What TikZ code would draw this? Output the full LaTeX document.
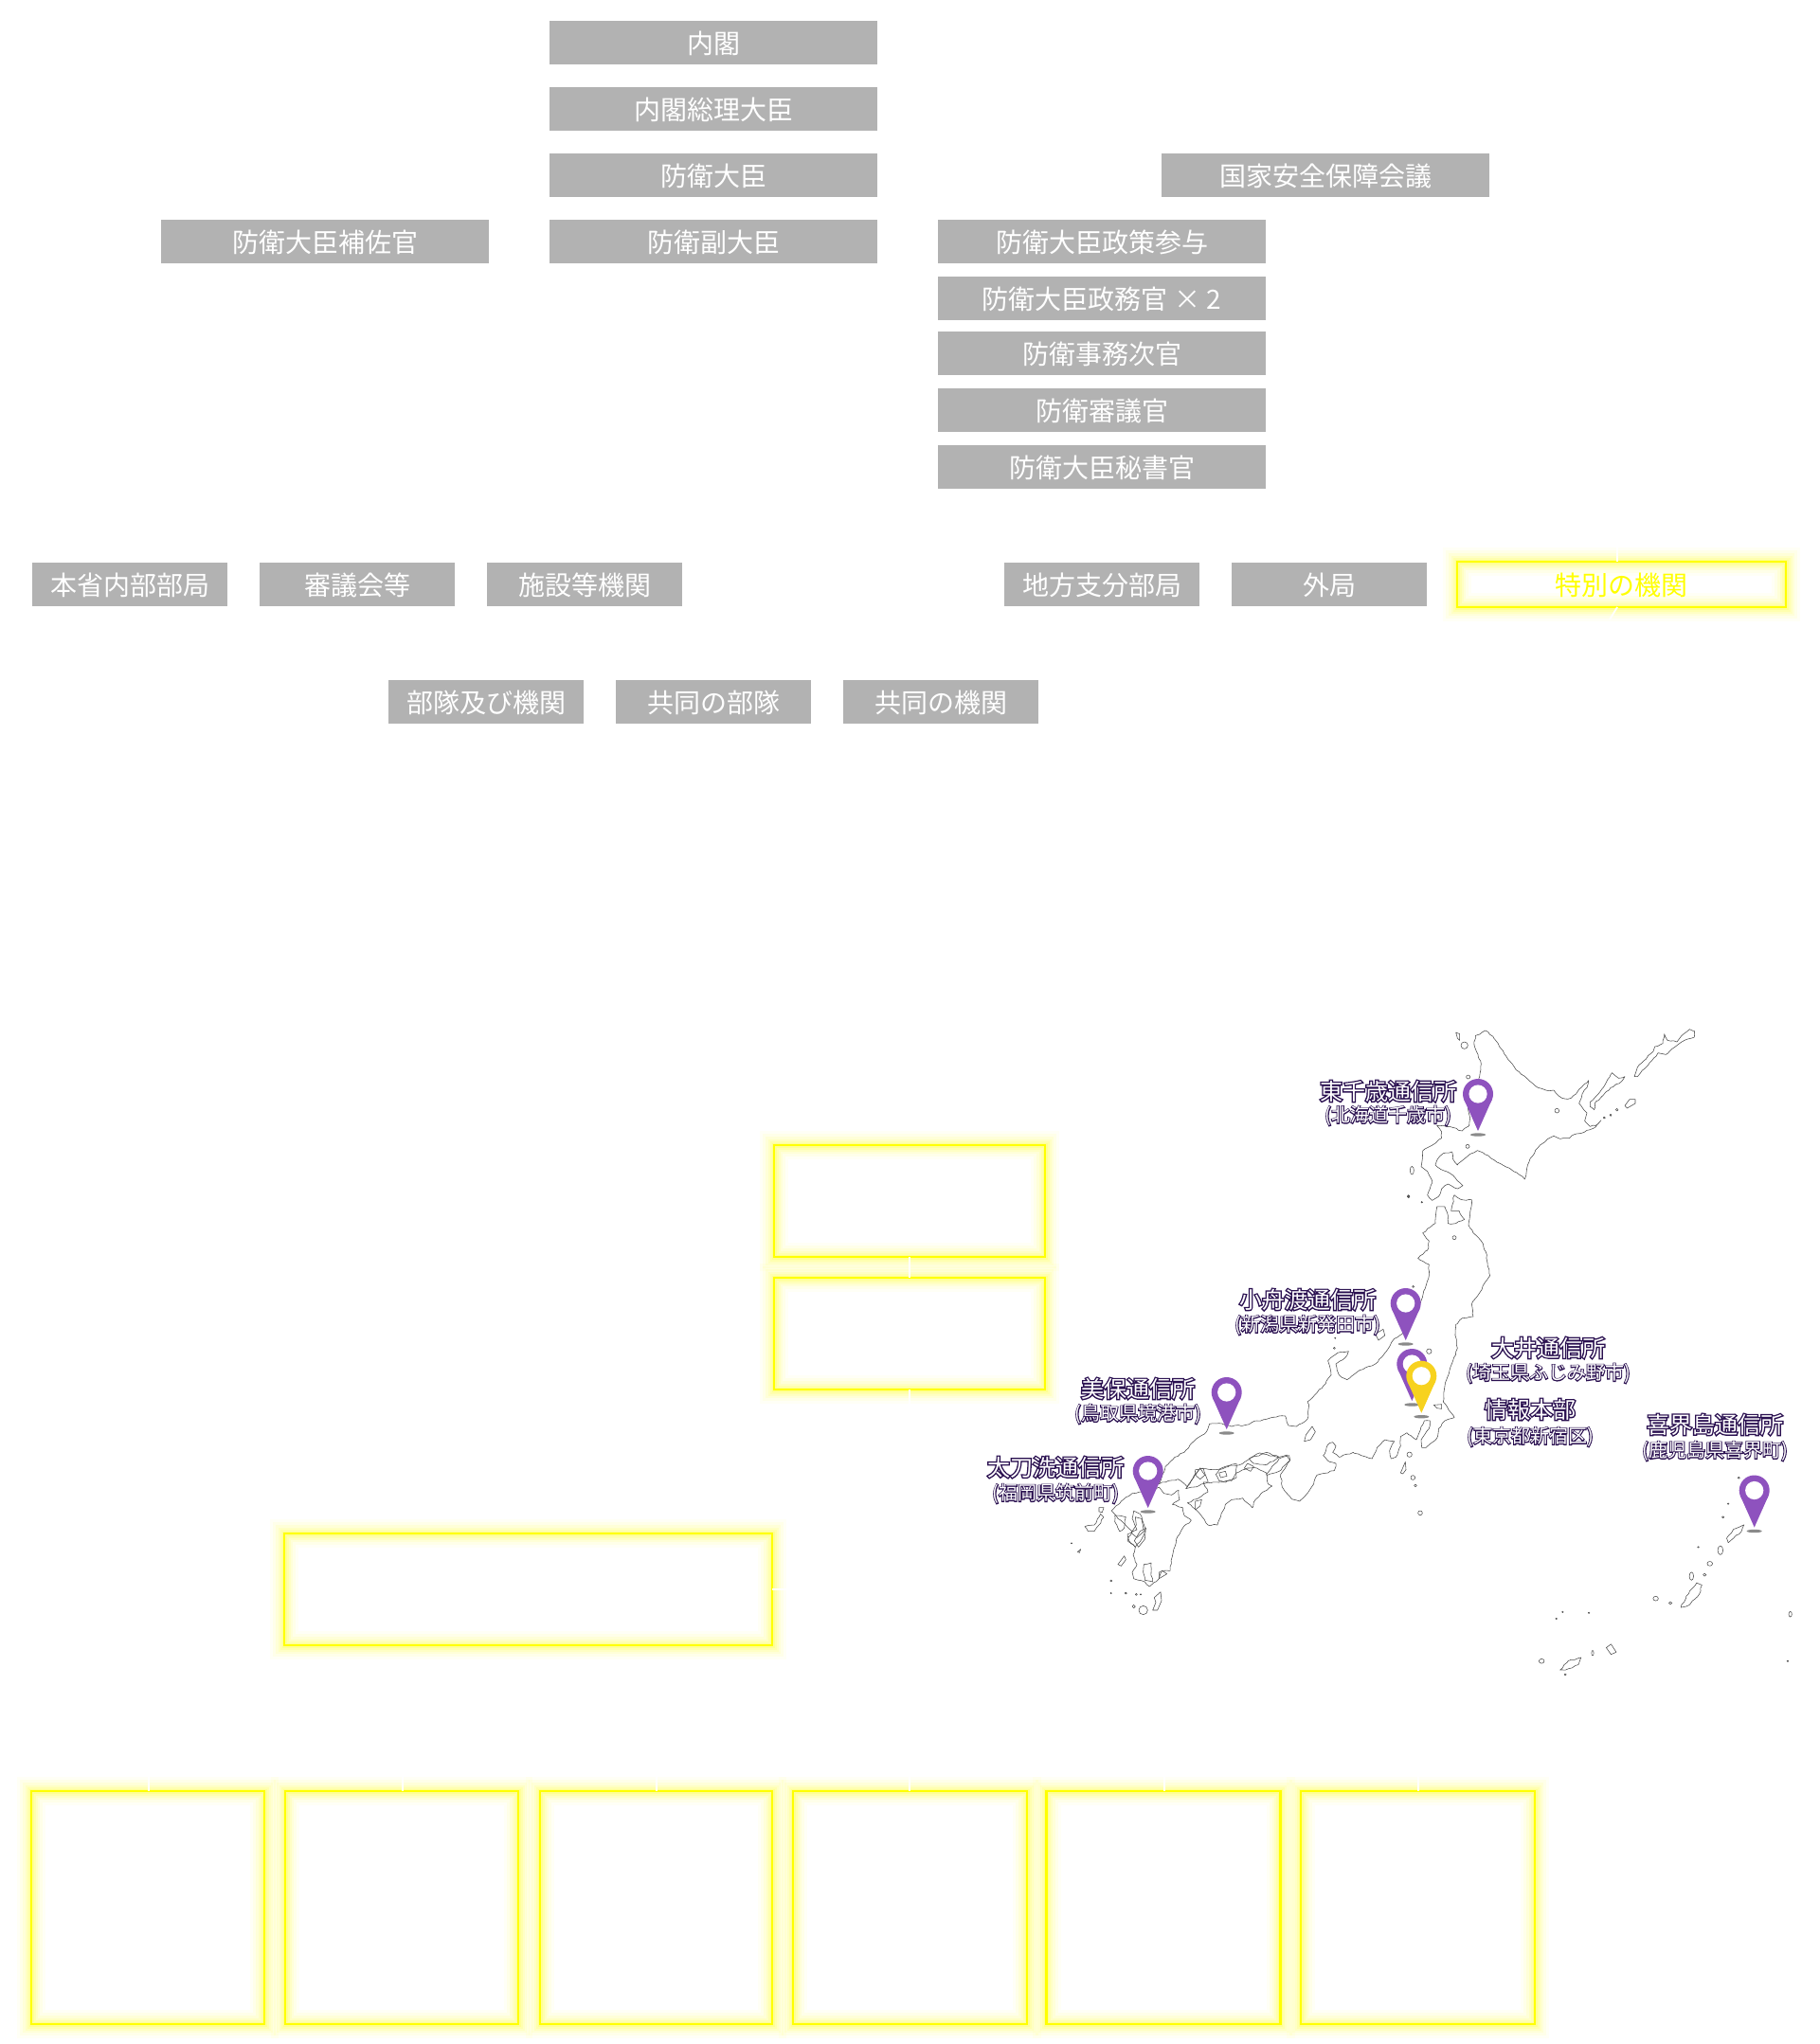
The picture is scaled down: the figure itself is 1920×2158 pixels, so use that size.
\documentclass[tikz,border=0pt]{standalone}
\usepackage{fontspec}
\usetikzlibrary{decorations.pathmorphing}
\setmainfont{Noto Sans CJK JP}
\newfontfamily\cjkout[FakeBold=11]{Noto Sans CJK JP}
\newfontfamily\cjkoutsub[FakeBold=9]{Noto Sans CJK JP}
\definecolor{boxgrey}{HTML}{B2B2B2}
\definecolor{glowy}{HTML}{FFFF00}
\definecolor{pinp}{HTML}{8E52BE}
\definecolor{piny}{HTML}{F7D21F}
\definecolor{pinsh}{HTML}{8A8A8A}
\definecolor{outl}{HTML}{2A1050}
\definecolor{coast}{HTML}{4A4A4A}
\newcommand\outtext[2]{{\fontsize{24}{24}\selectfont\rlap{\textcolor{outl}{\cjkout #2}}\textcolor{white}{#2}}}
\newcommand\outsub[1]{{\fontsize{20}{20}\selectfont\rlap{\textcolor{outl}{\cjkoutsub #1}}\textcolor{white}{#1}}}
\newcommand\pinmark[3]{%
  \fill[pinsh] (#1,#2+4) ellipse (8 and 1.7);
  \fill[#3] (#1,#2-39) circle (16);
  \fill[#3] (#1,#2) -- (#1-14.7,#2-33) -- (#1+14.7,#2-33) -- cycle;
  \fill[white] (#1,#2-39) circle (9.6);
}
\pgfmathsetseed{2158}
\tikzset{
  greybox/.style={fill=boxgrey,text=white,inner sep=0pt,outer sep=0pt,minimum height=46pt,text height=25pt,text depth=2.4pt,font=\fontsize{28}{28}\selectfont},
  widebox/.style={greybox,minimum width=346pt},
  narrowbox/.style={greybox,minimum width=206pt},
  glowbox/.style={draw=glowy,line width=2.2pt,inner sep=0pt,outer sep=0pt,
    preaction={draw=glowy,line width=30pt,opacity=.035},
    preaction={draw=glowy,line width=24pt,opacity=.05},
    preaction={draw=glowy,line width=18pt,opacity=.07},
    preaction={draw=glowy,line width=13pt,opacity=.09},
    preaction={draw=glowy,line width=9pt,opacity=.11},
    preaction={draw=glowy,line width=5pt,opacity=.14}},
  wire/.style={draw=white,line width=1.8pt},
  coastline/.style={draw=coast,line width=.55pt,line join=round},
  rough/.style={coastline,decorate,decoration={random steps,segment length=3.5pt,amplitude=.7pt}},
  pinlabel/.style={inner sep=0pt,outer sep=0pt},
}
\begin{document}
\begin{tikzpicture}[x=1pt,y=-1pt]
\useasboundingbox (0,0) rectangle (1920,2158);
\fill[white] (0,0) rectangle (1920,2158);
% grey boxes
\node[widebox] (naikaku) at (753,45) {内閣};
\node[widebox] (souri) at (753,115) {内閣総理大臣};
\node[widebox] (daijin) at (753,185) {防衛大臣};
\node[widebox] (fuku) at (753,255) {防衛副大臣};
\node[widebox] (hosa) at (343,255) {防衛大臣補佐官};
\node[widebox] (nsc) at (1399,185) {国家安全保障会議};
\node[widebox] (seisaku) at (1163,255) {防衛大臣政策参与};
\node[widebox] (seimu) at (1163,315) {防衛大臣政務官 × 2};
\node[widebox] (jimu) at (1163,373) {防衛事務次官};
\node[widebox] (shingi) at (1163,433) {防衛審議官};
\node[widebox] (hisho) at (1163,493) {防衛大臣秘書官};
\node[narrowbox] (honsho) at (137,617) {本省内部部局};
\node[narrowbox] (shingikai) at (377,617) {審議会等};
\node[narrowbox] (shisetsu) at (617,617) {施設等機関};
\node[narrowbox] (chiho) at (1163,617) {地方支分部局};
\node[narrowbox] (gaikyoku) at (1403,617) {外局};
\node[narrowbox] (butai) at (513,741) {部隊及び機関};
\node[narrowbox] (kyodob) at (753,741) {共同の部隊};
\node[narrowbox] (kyodok) at (993,741) {共同の機関};
% glowing boxes
\node[glowbox,minimum width=347pt,minimum height=48pt,text=glowy,text height=25pt,text depth=2.4pt,font=\fontsize{28}{28}\selectfont] (tokubetsu) at (1711.5,617) {特別の機関};
\node[glowbox,minimum width=286pt,minimum height=118pt] (ga) at (960,1268) {};
\node[glowbox,minimum width=286pt,minimum height=118pt] (gb) at (960,1408) {};
\node[glowbox,minimum width=515pt,minimum height=118pt] (gc) at (557.5,1678) {};
\node[glowbox,minimum width=246pt,minimum height=246pt] (g1) at (156,2014) {};
\node[glowbox,minimum width=246pt,minimum height=246pt] (g2) at (424,2014) {};
\node[glowbox,minimum width=245pt,minimum height=246pt] (g3) at (692.5,2014) {};
\node[glowbox,minimum width=247pt,minimum height=246pt] (g4) at (960.5,2014) {};
\node[glowbox,minimum width=247pt,minimum height=246pt] (g5) at (1228,2014) {};
\node[glowbox,minimum width=247pt,minimum height=246pt] (g6) at (1496.5,2014) {};
% white connectors, seen only across the glow
\coordinate (tu) at (1707,576);
\coordinate (td) at (1699,654);
\coordinate (gbd) at (960,1490);
\coordinate (gcr) at (836,1678);
\coordinate (t1) at (157,1874);
\coordinate (t2) at (425,1874);
\coordinate (t3) at (693,1874);
\coordinate (t4) at (960,1874);
\coordinate (t5) at (1229,1874);
\coordinate (t6) at (1497,1874);
\draw[wire] (ga.south) -- (gb.north);
\draw[wire] (gb.south) -- (gbd);
\draw[wire] (gc.east) -- (gcr);
\draw[wire] (tokubetsu.north -| tu) -- (tu);
\draw[wire] (tokubetsu.south -| tu) -- (td);
\draw[wire] (g1.north -| t1) -- (t1);
\draw[wire] (g2.north -| t2) -- (t2);
\draw[wire] (g3.north -| t3) -- (t3);
\draw[wire] (g4.north -| t4) -- (t4);
\draw[wire] (g5.north -| t5) -- (t5);
\draw[wire] (g6.north -| t6) -- (t6);
% map: Hokkaido and Kuriles
\begin{scope}[shift={(1480,1070)},x=.33333pt,y=-.33333pt]
\draw[rough] (232,70)--(245,66)--(262,54)--(272,58)--(290,78)--(312,110)--(335,145)--(360,178)--(385,197)--(405,215)--(430,235)--(455,243)--(480,243)--(497,262)--(515,270)--(535,268)--(555,248)--(575,225)--(590,212)--(585,235)--(570,255)--(560,285)--(575,305)--(585,315)--(578,340)--(595,358)--(612,355)--(630,338)--(612,360)--(585,370)--(565,380)--(545,383)--(530,395)--(500,397)--(480,388)--(460,398)--(430,425)--(405,460)--(395,490)--(388,525)--(370,510)--(340,490)--(310,475)--(280,458)--(258,442)--(238,434)--(215,445)--(195,462)--(175,480)--(160,460)--(158,438)--(130,443)--(110,465)--(105,480)--(130,497)--(160,512)--(175,530)--(192,545)--(175,555)--(145,540)--(125,555)--(115,580)--(95,592)--(80,575)--(95,530)--(80,500)--(60,485)--(65,435)--(90,420)--(125,395)--(125,375)--(110,355)--(150,358)--(190,372)--(212,355)--(215,330)--(208,300)--(245,200)--(250,160)--(240,130)--(228,100)--cycle;
\draw[coastline] (170,60)--(182,65)--(182,85)--(175,78)--cycle;
\draw[coastline] (197,101) circle (11);
\draw[coastline] (31,497) ellipse (6 and 13);
\draw[coastline] (20,578) circle (3);
\draw[coastline] (62,598) circle (2);
\draw[coastline] (207,421) circle (6);
\draw[coastline] (209,201) circle (6);
\draw[coastline] (490,308) circle (7);
\draw[rough] (735,200)--(745,170)--(765,150)--(795,120)--(800,105)--(825,95)--(830,65)--(840,85)--(870,90)--(885,70)--(910,50)--(925,55)--(925,75)--(885,90)--(865,105)--(835,130)--(810,125)--(790,150)--(760,180)--(745,200)--cycle;
\draw[rough] (595,280)--(625,250)--(650,210)--(665,188)--(685,205)--(705,200)--(695,215)--(660,235)--(630,265)--(610,285)--(608,305)--(595,295)--cycle;
\draw[coastline] (705,292)--(720,272)--(738,272)--(738,285)--(712,300)--cycle;
\draw[coastline] (680,305) circle (4);
\draw[coastline] (660,322) circle (3);
\draw[coastline] (640,330) circle (3);
\end{scope}
% map: Honshu, Shikoku, Kyushu
\begin{scope}[shift={(1120,1470)},x=.33333pt,y=-.33333pt]
\draw[rough] (1190,-588)--(1215,-588)--(1225,-560)--(1225,-535)--(1250,-535)--(1277,-548)--(1260,-575)--(1235,-575)--(1245,-625)--(1270,-610)--(1300,-610)--(1295,-570)--(1290,-530)--(1305,-505)--(1330,-480)--(1345,-445)--(1350,-410)--(1358,-370)--(1340,-345)--(1325,-315)--(1300,-280)--(1305,-240)--(1270,-235)--(1250,-215)--(1248,-180)--(1255,-140)--(1230,-70)--(1215,-20)--(1210,30)--(1235,65)--(1245,80)--(1215,90)--(1195,115)--(1190,145)--(1155,175)--(1142,175)--(1140,150)--(1165,115)--(1168,90)--(1150,90)--(1135,125)--(1125,150)--(1095,128)--(1075,140)--(1075,170)--(1060,205)--(1045,210)--(1040,185)--(1055,155)--(1025,150)--(1000,175)--(985,210)--(950,200)--(925,190)--(880,205)--(860,190)--(870,170)--(860,158)--(845,165)--(830,200)--(850,220)--(870,225)--(865,248)--(810,262)--(800,290)--(775,325)--(755,345)--(730,338)--(700,300)--(695,260)--(725,215)--(715,198)--(690,205)--(650,190)--(620,195)--(590,215)--(565,230)--(520,235)--(490,245)--(440,240)--(420,265)--(400,300)--(385,285)--(370,275)--(340,280)--(310,290)--(330,235)--(360,205)--(390,190)--(420,155)--(460,125)--(470,100)--(500,98)--(540,108)--(585,103)--(620,90)--(650,85)--(690,75)--(710,75)--(720,105)--(745,108)--(780,85)--(785,40)--(780,30)--(830,-20)--(855,-55)--(845,-100)--(875,-125)--(910,-130)--(900,-110)--(870,-90)--(880,-55)--(905,-40)--(945,-70)--(995,-90)--(1030,-130)--(1055,-170)--(1080,-185)--(1140,-290)--(1165,-370)--(1165,-405)--(1130,-425)--(1160,-450)--(1165,-480)--(1145,-505)--(1185,-535)--(1188,-575)--cycle;
\draw[rough] (400,350)--(435,335)--(465,315)--(450,285)--(500,285)--(540,280)--(555,255)--(590,240)--(620,240)--(650,255)--(655,290)--(668,297)--(640,315)--(615,340)--(605,365)--(575,335)--(540,340)--(520,355)--(505,395)--(495,420)--(465,420)--(440,385)--(425,370)--cycle;
\draw[rough] (650,260)--(690,210)--(722,200)--(725,215)--(690,250)--(655,262)--cycle;
\draw[rough] (500,245)--(555,225)--(555,270)--(520,285)--(500,280)--(490,260)--cycle;
\draw[rough] (595,210)--(640,195)--(690,205)--(650,230)--(610,225)--cycle;
\draw[rough] (425,245)--(450,240)--(465,285)--(420,300)--(395,305)--(420,270)--cycle;
\draw[rough] (310,300)--(325,320)--(350,325)--(372,310)--(375,340)--(352,355)--(385,365)--(390,390)--(412,405)--(385,430)--(365,465)--(352,520)--(345,565)--(320,565)--(310,590)--(280,615)--(265,600)--(230,590)--(225,570)--(240,545)--(228,515)--(235,490)--(210,470)--(225,440)--(180,400)--(160,375)--(190,345)--(225,320)--(250,315)--(275,320)--cycle;
\draw[rough] (230,375)--(250,385)--(268,430)--(255,465)--(235,490)--(215,470)--(210,450)--(240,435)--(225,400)--cycle;
\draw[coastline] (235,395)--(255,400)--(262,440)--(240,460)--(222,445)--(238,420)--cycle;
\draw[coastline] (250,440)--(268,430)--(265,465)--(245,490)--(232,470)--cycle;
\draw[rough] (170,390)--(205,395)--(200,430)--(185,440)--(170,410)--cycle;
\draw[rough] (75,425)--(105,420)--(125,385)--(135,395)--(120,420)--(105,440)--(85,440)--cycle;
\draw[coastline] (120,365)--(135,365)--(130,380)--(120,378)--cycle;
\draw[coastline] (180,545)--(200,518)--(205,530)--(190,550)--cycle;
\draw[rough] (262,545)--(285,540)--(285,570)--(290,600)--(265,595)--(260,570)--cycle;
\draw[coastline] (310,570)--(320,565)--(335,575)--(310,590)--cycle;
\draw[coastline] (295,650)--(315,632)--(318,660)--(305,690)--(290,690)--(300,665)--cycle;
\draw[coastline] (260,690) circle (14);
\draw[coastline] (230,678) circle (5);
\draw[coastline] (158,597) circle (3);
\draw[coastline] (158,636) circle (2);
\draw[coastline] (205,636) circle (3);
\draw[coastline] (238,640) circle (3);
\draw[coastline] (252,640) circle (2);
\draw[coastline] (33,478) circle (2);
\draw[coastline] (52,505)--(62,497)--(58,508)--cycle;
\draw[coastline] (440,240)--(455,262)--(440,275)--(425,262)--cycle;
\draw[coastline] (590,225)--(610,235)--(600,250)--(580,240)--cycle;
\draw[coastline] (500,255)--(520,250)--(525,265)--(505,270)--cycle;
\draw[coastline] (425,345)--(445,340)--(440,360)--(425,372)--cycle;
\draw[coastline] (770,155)--(775,135)--(795,108)--(805,125)--(790,150)--cycle;
\draw[coastline] (995,-185)--(1020,-200)--(1025,-180)--(1005,-165)--cycle;
\draw[coastline] (1165,-130) circle (8);
\draw[coastline] (1115,-335) circle (3);
\draw[coastline] (1180,40)--(1205,38)--(1205,52)--(1190,50)--cycle;
\draw[coastline] (1245,-490) circle (6);
\draw[coastline] (1100,-620) circle (4);
\draw[coastline] (1142,-602) circle (2);
\draw[coastline] (865,-140) circle (3);
\draw[coastline] (868,-172) circle (2);
\draw[coastline] (1103,197) circle (8);
\draw[coastline] (1075,255)--(1090,220)--(1092,245)--(1082,258)--cycle;
\draw[coastline] (1114,270) circle (7);
\draw[coastline] (1122,295) circle (4);
\draw[coastline] (1137,382) circle (7);
\end{scope}
% map: Nansei islands
\begin{scope}[shift={(1050,1060)},x=.55494pt,y=-.47192pt]
\draw[rough] (1392,1195)--(1405,1175)--(1425,1165)--(1420,1180)--(1405,1195)--(1395,1205)--cycle;
\draw[coastline] (1380,1222) ellipse (5 and 10);
\draw[coastline] (1360,1252) circle (5);
\draw[coastline] (1350,1277) circle (3);
\draw[rough] (1305,1350)--(1315,1325)--(1335,1295)--(1345,1300)--(1340,1320)--(1320,1345)--cycle;
\draw[coastline] (1325,1280) ellipse (4 and 9);
\draw[coastline] (1257,1330) circle (5);
\draw[coastline] (1285,1340) circle (3);
\draw[coastline] (1338,1215) circle (1.5);
\draw[coastline] (1395,1118) circle (1.5);
\draw[coastline] (1385,1148) circle (2);
\draw[coastline] (1415,1060) circle (2);
\draw[coastline] (1513,1365) ellipse (3 and 6);
\draw[coastline] (1508,1470) circle (1.5);
\draw[coastline] (1040,1470) circle (5);
\draw[rough] (1075,1490)--(1090,1470)--(1115,1462)--(1110,1478)--(1085,1490)--cycle;
\draw[coastline] (1137,1452) ellipse (2 and 6);
\draw[coastline] (1163,1440)--(1172,1432)--(1182,1450)--(1172,1455)--cycle;
\draw[coastline] (1085,1500) circle (2);
\draw[coastline] (1080,1360) circle (1.5);
\draw[coastline] (1068,1375) circle (1.5);
\draw[coastline] (1130,1362) circle (1.5);
\end{scope}
% pins
\pinmark{1560}{1194}{pinp}
\pinmark{1483.7}{1415}{pinp}
\pinmark{1490.3}{1479}{pinp}
\pinmark{1500.3}{1491.7}{piny}
\pinmark{1294.7}{1509}{pinp}
\pinmark{1211.7}{1592}{pinp}
\pinmark{1851.7}{1612.5}{pinp}
% labels
\node[pinlabel] (l1) at (1465,1152) {\outtext{24}{東千歳通信所}};
\node[pinlabel] (l1s) at (1465,1178) {\outsub{(北海道千歳市)}};
\node[pinlabel] (l2) at (1380,1372) {\outtext{24}{小舟渡通信所}};
\node[pinlabel] (l2s) at (1380,1399) {\outsub{(新潟県新発田市)}};
\node[pinlabel] (l3) at (1634,1423) {\outtext{24}{大井通信所}};
\node[pinlabel] (l3s) at (1634,1450) {\outsub{(埼玉県ふじみ野市)}};
\node[pinlabel] (l4) at (1615,1488) {\outtext{24}{情報本部}};
\node[pinlabel] (l4s) at (1615,1517) {\outsub{(東京都新宿区)}};
\node[pinlabel] (l5) at (1201,1466) {\outtext{24}{美保通信所}};
\node[pinlabel] (l5s) at (1201,1493) {\outsub{(鳥取県境港市)}};
\node[pinlabel] (l6) at (1114,1549) {\outtext{24}{太刀洗通信所}};
\node[pinlabel] (l6s) at (1114,1577) {\outsub{(福岡県筑前町)}};
\node[pinlabel] (l7) at (1810,1504) {\outtext{24}{喜界島通信所}};
\node[pinlabel] (l7s) at (1810,1532) {\outsub{(鹿児島県喜界町)}};
\end{tikzpicture}
\end{document}
